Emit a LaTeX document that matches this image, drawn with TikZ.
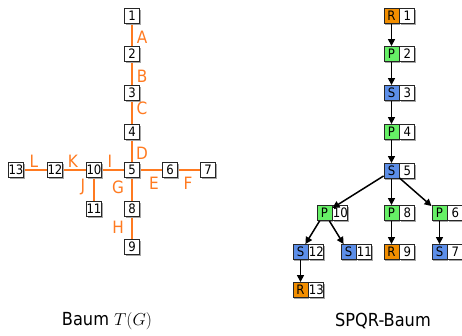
\documentclass[tikz,border=0pt]{standalone}
\usepackage{fontspec}
\setmainfont{DejaVu Sans Condensed}
\usetikzlibrary{arrows.meta,shadows}
\definecolor{rcol}{RGB}{242,142,0}
\definecolor{pcol}{RGB}{102,240,102}
\definecolor{scol}{RGB}{92,142,232}
\definecolor{ocol}{RGB}{255,122,32}
\tikzset{
  bx/.style={draw=black!85, line width=0.9pt, fill=white, minimum width=15pt, minimum height=15pt, inner sep=0pt, font=\fontsize{13}{13}\selectfont,
    drop shadow={shadow xshift=1pt, shadow yshift=-1pt, fill=black!35, opacity=1}},
  lbl/.style={text=ocol, font=\fontsize{17}{17}\selectfont, inner sep=0pt},
  tedge/.style={draw=ocol, line width=1.7pt},
  rbx/.style={bx, fill=rcol},
  pbx/.style={bx, fill=pcol},
  sbx/.style={bx, fill=scol},
  nbx/.style={bx, anchor=west},
  arr/.style={draw=black, line width=1.5pt, -{Triangle[length=7pt,width=7pt]}},
  captxt/.style={font=\fontsize{18}{18}\selectfont, inner sep=0pt}
}
\begin{document}
\begin{tikzpicture}[x=1pt,y=-1pt]
\useasboundingbox (0,0) rectangle (462,335);
% left tree
\coordinate (c1) at (132,16);
\coordinate (c2) at (132,54);
\coordinate (c3) at (132,93);
\coordinate (c4) at (132,132);
\coordinate (c5) at (132,170);
\coordinate (c6) at (170,170);
\coordinate (c7) at (208,170);
\coordinate (c8) at (132,209);
\coordinate (c9) at (132,247);
\coordinate (c10) at (94,170);
\coordinate (c11) at (94,209);
\coordinate (c12) at (55,170);
\coordinate (c13) at (16,170);
\draw[tedge] (c1) -- (c2) -- (c3) -- (c4) -- (c5) -- (c8) -- (c9);
\draw[tedge] (c13) -- (c12) -- (c10) -- (c5) -- (c6) -- (c7);
\draw[tedge] (c10) -- (c11);
\foreach \i in {1,...,13} { \node[bx] (t\i) at (c\i) {\i}; }
\node[lbl] (la) at (142,37) {A};
\node[lbl] (lb) at (142,76) {B};
\node[lbl] (lc) at (142,108) {C};
\node[lbl] (ld) at (142,153) {D};
\node[lbl] (le) at (154,183) {E};
\node[lbl] (lf) at (188,183) {F};
\node[lbl] (lg) at (118,187) {G};
\node[lbl] (lh) at (118,227) {H};
\node[lbl] (li) at (110,161) {I};
\node[lbl] (lj) at (83,187) {J};
\node[lbl] (lk) at (73,161) {K};
\node[lbl] (ll) at (34,161) {L};
% right tree
\foreach \n/\t/\L/\x/\y in {1/r/R/399/16, 2/p/P/399/54, 3/s/S/399/93, 4/p/P/399/132, 5/s/S/399/171, 10/p/P/332/213, 8/p/P/399/213, 6/p/P/447/213, 12/s/S/308/252, 11/s/S/356/252, 9/r/R/399/252, 7/s/S/447/252, 13/r/R/308/290} {
  \node[\t bx] (s\n) at (\x-7.5,\y) {\L};
  \node[nbx] (n\n) at (s\n.east) {\n};
}
\foreach \a/\b in {1/2, 2/3, 3/4, 4/5, 5/10, 5/8, 5/6, 10/12, 10/11, 8/9, 6/7, 12/13} {
  \draw[arr] (s\a) -- (s\b);
}
\node[captxt] (cap1) at (107,321) {Baum $T(G)$};
\node[captxt] (cap2) at (383,321) {SPQR-Baum};
\end{tikzpicture}
\end{document}
